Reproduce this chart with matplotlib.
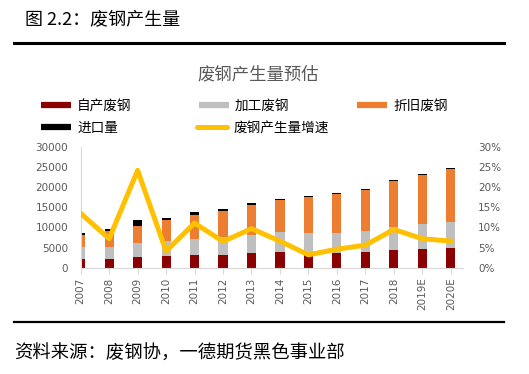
import numpy as np
import matplotlib
matplotlib.use('Agg')
import matplotlib.pyplot as plt
from matplotlib.lines import Line2D
from matplotlib.ticker import FuncFormatter

plt.rcParams['font.family'] = ['Noto Sans CJK SC', 'DejaVu Sans']

years = ['2007', '2008', '2009', '2010', '2011', '2012', '2013',
         '2014', '2015', '2016', '2017', '2018', '2019E', '2020E']
# 万吨 estimates
self_made = [2240, 2250, 2600, 2900, 3070, 3240, 3650, 3820, 3650, 3740, 3980, 4400, 4730, 4810]
processing = [2900, 2900, 3450, 3650, 4070, 4400, 4570, 4980, 4980, 4890, 5150, 5730, 6230, 6560]
obsolete = [3070, 4000, 4400, 5400, 5900, 6470, 7380, 8130, 8970, 9710, 10210, 11450, 12110, 13200]
imports = [400, 500, 1400, 500, 830, 500, 420, 170, 330, 250, 250, 250, 250, 250]
growth = [13.5, 7.2, 24.2, 4.1, 11.1, 6.5, 9.7, 6.6, 3.2, 4.6, 5.6, 9.5, 7.2, 6.6]

series = [('自产废钢', self_made, '#8B0000'),
          ('加工废钢', processing, '#BFBFBF'),
          ('折旧废钢', obsolete, '#ED7D31'),
          ('进口量', imports, '#000000')]
line_name = '废钢产生量增速'
line_color = '#FFC000'

W, H = 529, 374
fig = plt.figure(figsize=(W / 100, H / 100), dpi=100)
ax = fig.add_axes([80.7 / W, 1 - 267.7 / H, (463 - 80.7) / W, (267.7 - 147) / H])

x = np.arange(len(years))
bottom = np.zeros(len(years))
for name, vals, col in series:
    ax.bar(x, vals, width=0.32, bottom=bottom, color=col, label=name)
    bottom += np.array(vals)

ax.set_xlim(0, 13.43)
ax.set_ylim(0, 30000)
ax.set_yticks(range(0, 30001, 5000))
ax.set_xticks(x)
ax.set_xticklabels(years)
for s in ['top', 'right']:
    ax.spines[s].set_visible(False)
for s in ['left', 'bottom']:
    ax.spines[s].set_color('#D9D9D9')
ax.tick_params(axis='y', length=0, pad=9, labelsize=7.5, labelcolor='#595959')
ax.tick_params(axis='x', length=4, color='#D9D9D9', pad=3, labelsize=7.5,
               labelcolor='#595959', labelrotation=90)

ax2 = ax.twinx()
ax2.plot(x, growth, color=line_color, lw=3.6, label=line_name)
ax2.set_ylim(0, 30)
ax2.set_yticks(range(0, 31, 5))
ax2.yaxis.set_major_formatter(FuncFormatter(lambda v, p: '%d%%' % v))
for s in ax2.spines.values():
    s.set_visible(False)
ax2.tick_params(axis='y', length=0, pad=11, labelsize=7.5, labelcolor='#595959')

for lab in ax.get_xticklabels() + ax.get_yticklabels() + ax2.get_yticklabels():
    lab.set_fontfamily('DejaVu Sans')

# legend, one entry at a time to follow the spread-out layout
entries = [(Line2D([], [], color=series[0][2], lw=4.5, solid_capstyle='butt'), series[0][0], 41, 106),
           (Line2D([], [], color=series[1][2], lw=4.5, solid_capstyle='butt'), series[1][0], 199, 106),
           (Line2D([], [], color=series[2][2], lw=4.5, solid_capstyle='butt'), series[2][0], 357, 106),
           (Line2D([], [], color=series[3][2], lw=4.5, solid_capstyle='butt'), series[3][0], 41, 128),
           (Line2D([], [], color=line_color, lw=3.6, solid_capstyle='round'), line_name, 197, 128)]
for h, lab, px, py in entries:
    fig.legend(handles=[h], labels=[lab], loc='center left',
               bbox_to_anchor=(px / W, 1 - py / H), frameon=False,
               borderpad=0, borderaxespad=0, handlelength=2.2,
               handletextpad=0.45, fontsize=9.8)

fig.text(258 / W, 1 - 74 / H, '废钢产生量预估', ha='center', va='center',
         fontsize=12.5, color='#595959')
fig.text(25 / W, 1 - 20 / H, '图 2.2：废钢产生量', ha='left', va='center', fontsize=13)
fig.add_artist(Line2D([14 / W, 504 / W], [1 - 43.3 / H] * 2, lw=2.2, color='black'))
fig.add_artist(Line2D([14 / W, 504 / W], [1 - 322 / H] * 2, lw=1.6, color='black'))
fig.text(14 / W, 1 - 354 / H, '资料来源：废钢协，一德期货黑色事业部', ha='left', va='center', fontsize=13.2)

fig.savefig('out.png', dpi=100)
